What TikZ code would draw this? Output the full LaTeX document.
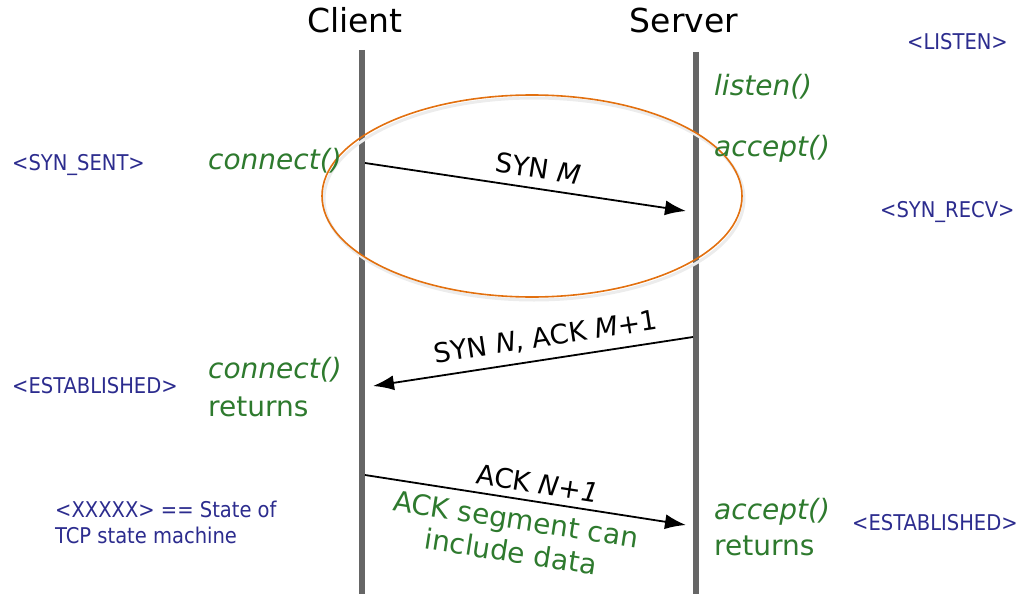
\documentclass[tikz,border=0pt]{standalone}
\usepackage{fontspec}
\setmainfont{DejaVu Sans}
\newfontfamily\condfont{DejaVu Sans Condensed}
\usetikzlibrary{arrows.meta}
\definecolor{callgreen}{HTML}{2E7A2E}
\definecolor{stateblue}{HTML}{2C2C8E}
\definecolor{ringorange}{HTML}{E2700F}
\definecolor{lifegray}{HTML}{666666}

\begin{document}
\begin{tikzpicture}[x=1pt,y=-1pt,
  actor/.style={font=\fontsize{33}{38}\selectfont, text=black, inner sep=0},
  lifeline/.style={line width=5.5pt, draw=lifegray},
  msg/.style={line width=1.8pt, -{Latex[length=21pt,width=15pt]}},
  msglabel/.style={font=\fontsize{27}{32}\selectfont, sloped, inner sep=0},
  call/.style={font=\fontsize{28}{38}\selectfont, text=callgreen, anchor=west, align=left, inner sep=0},
  state/.style={font=\condfont\fontsize{21.7}{26}\selectfont, text=stateblue, anchor=west, align=left, inner sep=0},
  ring/.style={draw=ringorange, line width=1.6pt}
]
\useasboundingbox (0,0) rectangle (1019,594);

% actors and lifelines
\node[actor] (client) at (355,20) {Client};
\node[actor] (server) at (684,20) {Server};
\coordinate (ctop) at (362,50);
\coordinate (cbot) at (362,594);
\coordinate (stop) at (696,52);
\coordinate (sbot) at (696,594);
\draw[lifeline] (ctop) -- (cbot);
\draw[lifeline] (stop) -- (sbot);

% highlight ring around the first segment, with a soft shadow
\draw[gray!15, line width=3pt] (534,199) ellipse [x radius=210, y radius=101];
\draw[ring] (532,196) ellipse [x radius=210, y radius=101];

% socket calls
\node[call] (listen) at (714,87) {\itshape listen()};
\node[call] (accept) at (714,149) {\itshape accept()};
\node[call] (connect) at (208,161) {\itshape connect()};
\node[call] (conret) at (208,387) {\textit{connect()}\\returns};
\node[call, font=\fontsize{28}{36}\selectfont] (accret) at (714,527) {\textit{accept()}\\returns};

% TCP states
\node[state] (listenst) at (907,42) {\textless LISTEN\textgreater};
\node[state] (synsent) at (12,165) {\textless SYN\_SENT\textgreater};
\node[state] (synrecv) at (880,212) {\textless SYN\_RECV\textgreater};
\node[state] (estc) at (12,386) {\textless ESTABLISHED\textgreater};
\node[state] (ests) at (852,523) {\textless ESTABLISHED\textgreater};
\node[state] (legend) at (55,522) {\textless XXXXX\textgreater{} == State of\\TCP state machine};

% segments
\coordinate (m1a) at (365,163);
\coordinate (m1b) at (686,211);
\coordinate (m2a) at (693,337);
\coordinate (m2b) at (373,386);
\coordinate (m3a) at (365,475);
\coordinate (m3b) at (686,525);

\draw[msg] (m1a) -- node[msglabel, pos=0.53, above=9pt] (syn) {SYN \textit{M}} (m1b);
\draw[msg] (m2a) -- node[msglabel, pos=0.45, above=9pt] (synack) {SYN \textit{N}, ACK \textit{M}+1} (m2b);
\draw[msg] (m3a) -- node[msglabel, pos=0.53, above=7pt] (ack) {ACK \textit{N+1}}
  node[msglabel, pos=0.48, below=9pt, text=callgreen, align=center, font=\fontsize{28}{33}\selectfont] (ackdata) {ACK segment can\\include data} (m3b);
\end{tikzpicture}
\end{document}
